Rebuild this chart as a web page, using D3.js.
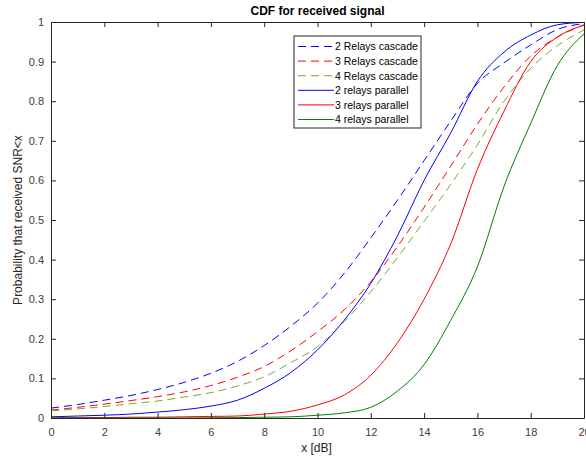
<!DOCTYPE html>
<html>
<head>
<meta charset="utf-8">
<script src="https://cdn.jsdelivr.net/npm/d3@7"></script>
<style>
  html, body { margin: 0; padding: 0; background: #fff; }
  svg { display: block; font-family: "Liberation Sans", Arial, Helvetica, sans-serif; }
</style>
</head>
<body>
<svg id="chart" width="586" height="463"></svg>
<script>
// ---- data ----
const xValues = [0,1,2,3,4,5,6,7,8,9,10,11,12,13,14,15,16,17,18,19,20];
const cascade2 = [0.025,0.034,0.045,0.057,0.072,0.090,0.113,0.143,0.183,0.232,0.290,0.365,0.455,0.550,0.650,0.750,0.845,0.897,0.942,0.981,0.996];
const cascade3 = [0.020,0.027,0.035,0.044,0.054,0.066,0.082,0.103,0.130,0.170,0.218,0.273,0.344,0.433,0.532,0.636,0.742,0.836,0.914,0.962,0.993];
const cascade4 = [0.018,0.023,0.029,0.036,0.043,0.053,0.064,0.081,0.104,0.140,0.180,0.243,0.319,0.405,0.497,0.590,0.690,0.800,0.883,0.940,0.980];
const parallel2 = [0.003,0.005,0.007,0.010,0.015,0.021,0.030,0.045,0.075,0.115,0.172,0.247,0.340,0.460,0.600,0.720,0.850,0.924,0.967,0.993,0.999];
const parallel3 = [0.0005,0.001,0.001,0.002,0.002,0.003,0.004,0.005,0.010,0.017,0.033,0.058,0.108,0.190,0.300,0.440,0.628,0.775,0.900,0.962,0.992];
const parallel4 = [0,0,0,0,0,0,0.0005,0.001,0.002,0.003,0.007,0.013,0.027,0.068,0.135,0.247,0.382,0.585,0.744,0.890,0.970];
const seriesNames = ["2 Relays cascade","3 Relays cascade","4 Relays cascade","2 relays parallel","3 relays parallel","4 relays parallel"];
const seriesColors = ["#0000ff","#ff0000","#77ac30","#0000ff","#ff0000","#008000"];
const seriesDashed = [true,true,true,false,false,false];
const xTicks = [0,2,4,6,8,10,12,14,16,18,20];
const yTicks = [0,0.1,0.2,0.3,0.4,0.5,0.6,0.7,0.8,0.9,1];
const titleText = "CDF for received signal";
const xLabelText = "x [dB]";
const yLabelText = "Probability that received SNR<x";

const seriesValues = [cascade2, cascade3, cascade4, parallel2, parallel3, parallel4];

// ---- layout ----
const svg = d3.select("#chart");
const L = 51, R = 584, T = 22, B = 418;
const x = d3.scaleLinear().domain([0, 20]).range([L, R]);
const y = d3.scaleLinear().domain([0, 1]).range([B, T]);
const axisColor = "#262626";
const tickLen = 5;

// clip
svg.append("defs").append("clipPath").attr("id", "clip")
  .append("rect").attr("x", L).attr("y", T).attr("width", R - L).attr("height", B - T);

// lines
const line = d3.line()
  .x((d, i) => x(xValues[i]))
  .y(d => y(d))
  .curve(d3.curveMonotoneX);

const g = svg.append("g").attr("clip-path", "url(#clip)");
seriesValues.forEach((vals, k) => {
  g.append("path")
    .datum(vals)
    .attr("d", line)
    .attr("fill", "none")
    .attr("stroke", seriesColors[k])
    .attr("stroke-width", 1)
    .attr("stroke-dasharray", seriesDashed[k] ? "8,5" : null);
});

// axes: bottom/top/left/right with inward ticks
const fmtY = d => (d === 0 ? "0" : d === 1 ? "1" : d3.format(".1f")(d));
const axB = svg.append("g").attr("transform", `translate(0,${B})`)
  .call(d3.axisBottom(x).tickValues(xTicks).tickSizeInner(-tickLen).tickSizeOuter(0).tickPadding(10).tickFormat(d3.format("d")));
const axT = svg.append("g").attr("transform", `translate(0,${T})`)
  .call(d3.axisTop(x).tickValues(xTicks).tickSizeInner(-tickLen).tickSizeOuter(0).tickFormat(""));
const axL = svg.append("g").attr("transform", `translate(${L},0)`)
  .call(d3.axisLeft(y).tickValues(yTicks).tickSizeInner(-tickLen).tickSizeOuter(0).tickPadding(7).tickFormat(fmtY));
const axR = svg.append("g").attr("transform", `translate(${R},0)`)
  .call(d3.axisRight(y).tickValues(yTicks).tickSizeInner(-tickLen).tickSizeOuter(0).tickFormat(""));

[axB, axT, axL, axR].forEach(a => {
  a.select(".domain").attr("stroke", axisColor).attr("stroke-width", 1);
  a.selectAll(".tick line").attr("stroke", axisColor).attr("stroke-width", 1);
  a.selectAll(".tick text").attr("fill", "#404040").attr("font-size", 11)
    .attr("font-family", "'Liberation Sans', Arial, Helvetica, sans-serif");
});

// titles
svg.append("text").attr("x", (L + R) / 2).attr("y", 15)
  .attr("text-anchor", "middle").attr("font-size", 12).attr("font-weight", "bold")
  .attr("fill", "#000").text(titleText);
svg.append("text").attr("x", (L + R) / 2 - 1).attr("y", 452)
  .attr("text-anchor", "middle").attr("font-size", 12).attr("fill", "#262626").text(xLabelText);
svg.append("text").attr("transform", `translate(22,${(T + B) / 2}) rotate(-90)`)
  .attr("text-anchor", "middle").attr("font-size", 12).attr("fill", "#262626").text(yLabelText);

// legend
const lgX = 294, lgY = 36, lgW = 127, lgH = 92;
const lg = svg.append("g");
lg.append("rect").attr("x", lgX).attr("y", lgY).attr("width", lgW).attr("height", lgH)
  .attr("fill", "#fff").attr("stroke", axisColor).attr("stroke-width", 1);
seriesNames.forEach((name, k) => {
  const yy = lgY + 10.5 + k * 14.6;
  lg.append("line").attr("x1", lgX + 4).attr("x2", lgX + 40).attr("y1", yy).attr("y2", yy)
    .attr("stroke", seriesColors[k]).attr("stroke-width", 1)
    .attr("stroke-dasharray", seriesDashed[k] ? "8,5" : null);
  lg.append("text").attr("x", lgX + 41).attr("y", yy + 3.8)
    .attr("font-size", 10.5).attr("fill", "#000").text(name);
});
</script>
</body>
</html>
